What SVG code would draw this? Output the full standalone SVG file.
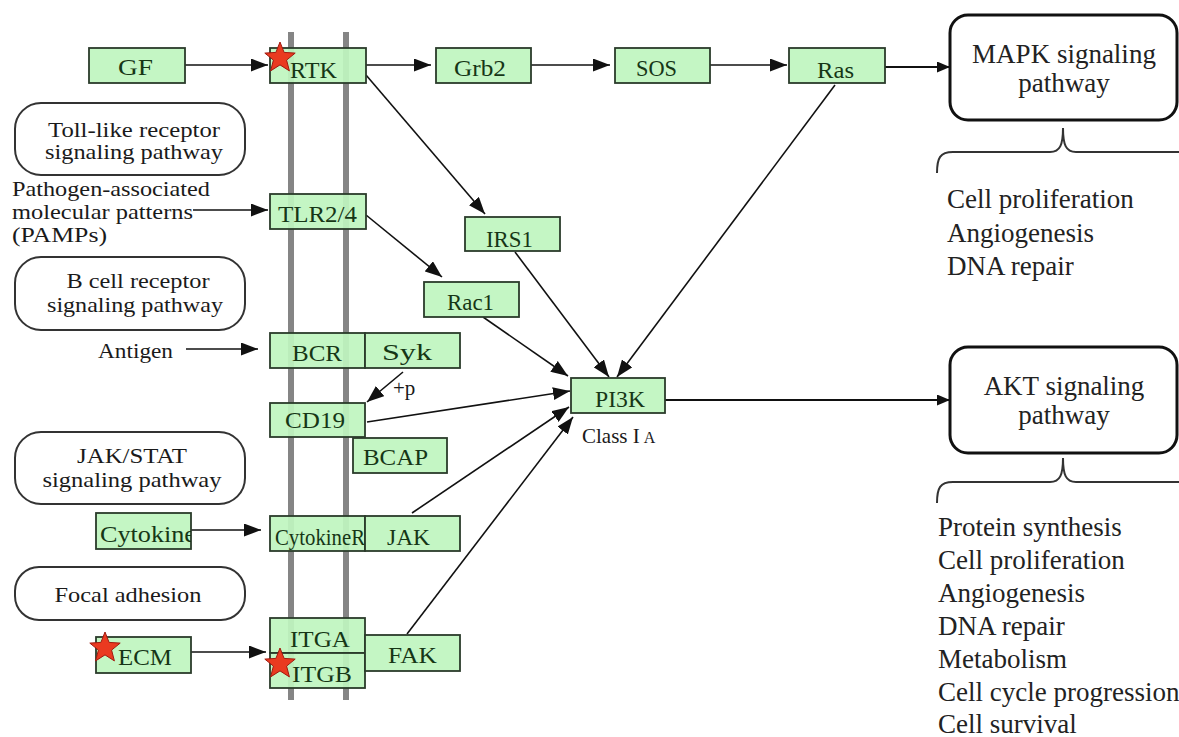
<svg xmlns="http://www.w3.org/2000/svg" width="1179" height="737" viewBox="0 0 1179 737">
<style>
.nd{fill:#c0f5c0;fill-opacity:0.93;stroke:#2b3b2b;stroke-width:1.8}
.nt{font-family:"Liberation Serif",serif;font-size:23px;fill:#163616}
.pw{fill:#fff;stroke:#333;stroke-width:2}
.lt{font-family:"Liberation Serif",serif;font-size:21px;fill:#1a1a1a}
.rt{font-family:"Liberation Serif",serif;font-size:27px;fill:#222}
.big{fill:#fff;stroke:#111;stroke-width:3}
.ln{stroke:#111;stroke-width:1.6;fill:none}
.thk{stroke:#111;stroke-width:2.2;fill:none}
.mem{stroke:#858585;stroke-width:6}
.br{stroke:#333;stroke-width:2;fill:none}
.st{fill:#ea3a20;stroke:#a01a10;stroke-width:1}
</style>
<defs>
<marker id="ah" markerUnits="userSpaceOnUse" markerWidth="17" markerHeight="13" refX="17" refY="6.5" orient="auto">
<path d="M0,0 L17,6.5 L0,13 z" fill="#111"/>
</marker>
<marker id="ah2" markerUnits="userSpaceOnUse" markerWidth="13" markerHeight="11" refX="13" refY="5.5" orient="auto">
<path d="M0,0 L13,5.5 L0,11 z" fill="#111"/>
</marker>
<polygon id="star" points="0,-16 4.1,-5.6 15.2,-4.9 6.6,2.1 9.4,12.9 0,6.9 -9.4,12.9 -6.6,2.1 -15.2,-4.9 -4.1,-5.6"/>
<clipPath id="cytclip"><rect x="96" y="513" width="95" height="36"/></clipPath>
</defs>
<rect width="1179" height="737" fill="#fff"/>

<g id="membrane">
<line class="mem" x1="291" y1="32" x2="291" y2="700"/>
<line class="mem" x1="346" y1="32" x2="346" y2="700"/>
</g>

<g id="pathway-boxes">
<g id="toll"><rect class="pw" x="15" y="103" width="230" height="72" rx="26"/>
<text class="lt" x="134" y="137" text-anchor="middle" textLength="172" lengthAdjust="spacingAndGlyphs">Toll-like receptor</text>
<text class="lt" x="134" y="159" text-anchor="middle" textLength="178" lengthAdjust="spacingAndGlyphs">signaling pathway</text></g>
<g id="bcell"><rect class="pw" x="15" y="257" width="230" height="73" rx="26"/>
<text class="lt" x="138" y="288" text-anchor="middle" textLength="143" lengthAdjust="spacingAndGlyphs">B cell receptor</text>
<text class="lt" x="135" y="312" text-anchor="middle" textLength="176" lengthAdjust="spacingAndGlyphs">signaling pathway</text></g>
<g id="jakstat"><rect class="pw" x="15" y="432" width="230" height="72" rx="26"/>
<text class="lt" x="132" y="463" text-anchor="middle" textLength="110" lengthAdjust="spacingAndGlyphs">JAK/STAT</text>
<text class="lt" x="132" y="487" text-anchor="middle" textLength="179" lengthAdjust="spacingAndGlyphs">signaling pathway</text></g>
<g id="focal"><rect class="pw" x="15" y="567" width="230" height="53" rx="24"/>
<text class="lt" x="128" y="602" text-anchor="middle" textLength="147" lengthAdjust="spacingAndGlyphs">Focal adhesion</text></g>
</g>

<g id="inputs">
<g id="pamps">
<text class="lt" x="12" y="196" font-size="20" textLength="198" lengthAdjust="spacingAndGlyphs">Pathogen-associated</text>
<text class="lt" x="12" y="219" font-size="20" textLength="181" lengthAdjust="spacingAndGlyphs">molecular patterns</text>
<text class="lt" x="12" y="242" font-size="20" textLength="95" lengthAdjust="spacingAndGlyphs">(PAMPs)</text></g>
<g id="antigen"><text class="lt" x="98" y="358" textLength="75" lengthAdjust="spacingAndGlyphs">Antigen</text></g>
</g>

<g id="connectors">
<line class="ln" x1="185" y1="65" x2="268" y2="65" marker-end="url(#ah)"/>
<line class="ln" x1="366" y1="65" x2="431" y2="65" marker-end="url(#ah)"/>
<line class="ln" x1="531" y1="65" x2="610" y2="65" marker-end="url(#ah)"/>
<line class="ln" x1="710" y1="65" x2="787" y2="65" marker-end="url(#ah)"/>
<line class="thk" x1="885" y1="67" x2="950" y2="67" marker-end="url(#ah2)"/>
<line class="ln" x1="193" y1="210" x2="268" y2="210" marker-end="url(#ah)"/>
<line class="ln" x1="186" y1="349" x2="258" y2="349" marker-end="url(#ah)"/>
<line class="ln" x1="191" y1="530" x2="261" y2="530" marker-end="url(#ah)"/>
<line class="ln" x1="191" y1="652" x2="266" y2="652" marker-end="url(#ah)"/>
<line class="ln" x1="366" y1="75" x2="485" y2="214" marker-end="url(#ah)"/>
<line class="ln" x1="366" y1="215" x2="442" y2="277" marker-end="url(#ah)"/>
<line class="ln" x1="515" y1="252" x2="609" y2="377" marker-end="url(#ah)"/>
<line class="ln" x1="835" y1="85" x2="617" y2="377" marker-end="url(#ah)"/>
<line class="ln" x1="483" y1="317" x2="568" y2="376" marker-end="url(#ah)"/>
<line class="ln" x1="367" y1="422" x2="570" y2="391" marker-end="url(#ah)"/>
<line class="ln" x1="412" y1="513" x2="569" y2="407" marker-end="url(#ah)"/>
<line class="ln" x1="407" y1="634" x2="573" y2="417" marker-end="url(#ah)"/>
<line class="ln" x1="403" y1="372" x2="367" y2="402" marker-end="url(#ah)"/>
<line class="thk" x1="665" y1="400" x2="950" y2="400" marker-end="url(#ah2)"/>
</g>

<g id="GF"><rect class="nd" x="89" y="48" width="96" height="35"/><text class="nt" x="118" y="75" textLength="35" lengthAdjust="spacingAndGlyphs">GF</text></g>
<g id="RTK"><rect class="nd" x="270" y="48" width="96" height="35"/><text class="nt" x="290" y="78" textLength="47" lengthAdjust="spacingAndGlyphs">RTK</text></g>
<g id="Grb2"><rect class="nd" x="436" y="48" width="95" height="35"/><text class="nt" x="454" y="76" textLength="52" lengthAdjust="spacingAndGlyphs">Grb2</text></g>
<g id="SOS"><rect class="nd" x="615" y="48" width="95" height="35"/><text class="nt" x="636" y="76" textLength="41" lengthAdjust="spacingAndGlyphs">SOS</text></g>
<g id="Ras"><rect class="nd" x="789" y="48" width="96" height="35"/><text class="nt" x="817" y="78" textLength="37" lengthAdjust="spacingAndGlyphs">Ras</text></g>
<g id="TLR24"><rect class="nd" x="270" y="194" width="96" height="35"/><text class="nt" x="278" y="222" textLength="79" lengthAdjust="spacingAndGlyphs">TLR2/4</text></g>
<g id="IRS1"><rect class="nd" x="465" y="217" width="95" height="34"/><text class="nt" x="486" y="247" textLength="47" lengthAdjust="spacingAndGlyphs">IRS1</text></g>
<g id="Rac1"><rect class="nd" x="424" y="282" width="95" height="35"/><text class="nt" x="447" y="310" textLength="47" lengthAdjust="spacingAndGlyphs">Rac1</text></g>
<g id="BCR"><rect class="nd" x="270" y="333" width="95" height="35"/><text class="nt" x="292" y="361" textLength="50" lengthAdjust="spacingAndGlyphs">BCR</text></g>
<g id="Syk"><rect class="nd" x="365" y="333" width="95" height="35"/><text class="nt" x="382" y="360" textLength="50" lengthAdjust="spacingAndGlyphs">Syk</text></g>
<g id="CD19"><rect class="nd" x="270" y="403" width="95" height="34"/><text class="nt" x="285" y="428" textLength="60" lengthAdjust="spacingAndGlyphs">CD19</text></g>
<g id="BCAP"><rect class="nd" x="353" y="438" width="94" height="35"/><text class="nt" x="363" y="465" textLength="65" lengthAdjust="spacingAndGlyphs">BCAP</text></g>
<g id="PI3K"><rect class="nd" x="571" y="378" width="94" height="35"/><text class="nt" x="595" y="407" textLength="50" lengthAdjust="spacingAndGlyphs">PI3K</text>
<text class="lt" x="582" y="443" font-size="21">Class I<tspan font-size="16" dx="4">A</tspan></text></g>
<g id="Cytokine"><rect class="nd" x="96" y="513" width="95" height="36"/><text class="nt" x="100" y="542" textLength="96" lengthAdjust="spacingAndGlyphs" clip-path="url(#cytclip)">Cytokine</text></g>
<g id="CytokineR"><rect class="nd" x="270" y="516" width="95" height="35"/><text class="nt" x="275" y="545" textLength="90" lengthAdjust="spacingAndGlyphs">CytokineR</text></g>
<g id="JAK"><rect class="nd" x="365" y="516" width="95" height="35"/><text class="nt" x="387" y="545" textLength="43" lengthAdjust="spacingAndGlyphs">JAK</text></g>
<g id="ITGA"><rect class="nd" x="270" y="618" width="95" height="35"/><text class="nt" x="290" y="647" textLength="60" lengthAdjust="spacingAndGlyphs">ITGA</text></g>
<g id="ITGB"><rect class="nd" x="270" y="653" width="95" height="35"/><text class="nt" x="292" y="682" textLength="60" lengthAdjust="spacingAndGlyphs">ITGB</text></g>
<g id="FAK"><rect class="nd" x="365" y="635" width="95" height="36"/><text class="nt" x="388" y="663" textLength="49" lengthAdjust="spacingAndGlyphs">FAK</text></g>
<g id="ECM"><rect class="nd" x="96" y="637" width="95" height="36"/><text class="nt" x="118" y="665" textLength="54" lengthAdjust="spacingAndGlyphs">ECM</text></g>

<g id="plabel"><text class="lt" x="393" y="395" font-size="21">+p</text></g>

<g id="stars">
<use href="#star" class="st" x="280" y="58"/>
<use href="#star" class="st" x="105" y="648"/>
<use href="#star" class="st" x="280" y="664"/>
</g>

<g id="MAPK"><rect class="big" x="950" y="15" width="227" height="105" rx="18"/>
<text class="rt" x="1064" y="63" text-anchor="middle">MAPK signaling</text>
<text class="rt" x="1064" y="92" text-anchor="middle">pathway</text></g>
<g id="AKT"><rect class="big" x="950" y="347" width="227" height="106" rx="18"/>
<text class="rt" x="1064" y="395" text-anchor="middle">AKT signaling</text>
<text class="rt" x="1064" y="424" text-anchor="middle">pathway</text></g>

<g id="braces">
<path class="br" d="M937,173 C937,158 940,152 953,152 L1050,152 C1060,152 1063,145 1063,128 C1063,145 1066,152 1076,152 L1180,152"/>
<path class="br" d="M937,503 C937,488 940,482 953,482 L1050,482 C1060,482 1063,475 1063,458 C1063,475 1066,482 1076,482 L1180,482"/>
</g>

<g id="mapk-effects">
<text class="rt" x="947" y="208">Cell proliferation</text>
<text class="rt" x="947" y="242">Angiogenesis</text>
<text class="rt" x="947" y="275">DNA repair</text>
</g>
<g id="akt-effects">
<text class="rt" x="938" y="536">Protein synthesis</text>
<text class="rt" x="938" y="569">Cell proliferation</text>
<text class="rt" x="938" y="602">Angiogenesis</text>
<text class="rt" x="938" y="635">DNA repair</text>
<text class="rt" x="938" y="668">Metabolism</text>
<text class="rt" x="938" y="701">Cell cycle progression</text>
<text class="rt" x="938" y="733">Cell survival</text>
</g>
</svg>
